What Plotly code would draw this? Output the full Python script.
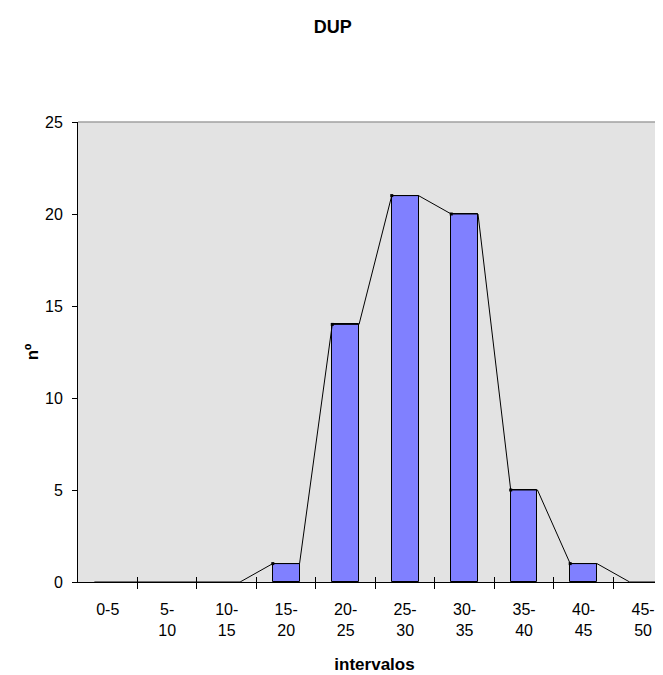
import plotly.graph_objects as go

# frequency table
intervals = ["0-5", "5-<br>10", "10-<br>15", "15-<br>20", "20-<br>25",
             "25-<br>30", "30-<br>35", "35-<br>40", "40-<br>45", "45-<br>50"]
counts = [0, 0, 0, 1, 14, 21, 20, 5, 1, 0]

FONT = "Liberation Sans, Arial, sans-serif"
BAR_W = 0.45

pos = list(range(len(intervals)))

# frequency polygon running over the bar tops (left and right corners)
poly_x, poly_y = [], []
for i, c in zip(pos, counts):
    poly_x += [i - BAR_W / 2, i + BAR_W / 2]
    poly_y += [c, c]

mark_x = [i - BAR_W / 2 for i, c in zip(pos, counts) if c > 0]
mark_y = [c for c in counts if c > 0]

fig = go.Figure()
fig.add_trace(go.Bar(
    x=pos, y=counts, width=BAR_W,
    marker=dict(color="#8080FF",
                line=dict(color="black", width=[1 if c > 0 else 0 for c in counts])),
    showlegend=False, hoverinfo="skip",
))
fig.add_trace(go.Scatter(
    x=poly_x, y=poly_y, mode="lines",
    line=dict(color="black", width=1),
    showlegend=False, hoverinfo="skip",
))
fig.add_trace(go.Scatter(
    x=mark_x, y=mark_y, mode="markers",
    marker=dict(symbol="square", size=3, color="black"),
    showlegend=False, hoverinfo="skip",
))
# invisible trace so the tick-only overlay axis gets drawn
fig.add_trace(go.Scatter(x=[0], y=[0], xaxis="x2", mode="markers",
                         marker=dict(opacity=0), showlegend=False, hoverinfo="skip"))

xrange = [-0.5, 9.47]
boundaries = [i + 0.5 for i in pos]

fig.update_layout(
    width=663, height=675,
    margin=dict(l=70, r=0, t=114, b=101),
    paper_bgcolor="white",
    plot_bgcolor="#E3E3E3",
    font=dict(family=FONT, size=16, color="black"),
    title=dict(text="<b>DUP</b>", x=0.49, xanchor="center", y=1 - 19 / 675,
               yanchor="middle", font=dict(size=18)),
    bargap=0,
    xaxis=dict(
        range=xrange, tickmode="array", tickvals=pos, ticktext=intervals,
        ticks="outside", ticklen=6, tickcolor="rgba(0,0,0,0)",
        ticklabelstandoff=7,
        minor=dict(tickmode="array", tickvals=boundaries, ticks="outside",
                   ticklen=6, tickcolor="black", tickwidth=1),
        showline=True, linecolor="black", linewidth=1,
        showgrid=False, zeroline=False,
        title=dict(text="<b>intervalos</b>", standoff=20, font=dict(size=17)),
    ),
    xaxis2=dict(
        overlaying="x", matches="x", range=xrange, tickmode="array",
        tickvals=boundaries, ticks="inside", ticklen=5, tickcolor="black",
        showticklabels=False, showgrid=False, zeroline=False, showline=False,
    ),
    yaxis=dict(
        range=[0, 25], tickmode="linear", tick0=0, dtick=5,
        ticks="outside", ticklen=5, tickcolor="black",
        ticklabelstandoff=6,
        showline=True, linecolor="black", linewidth=1,
        showgrid=False, zeroline=False,
        title=dict(text="<b>nº</b>", standoff=2, font=dict(size=17)),
    ),
    shapes=[dict(type="line", xref="paper", yref="paper", x0=0, x1=1, y0=1, y1=1,
                 line=dict(color="#A0A0A0", width=1.5))],
)

fig.write_html("out.html")
